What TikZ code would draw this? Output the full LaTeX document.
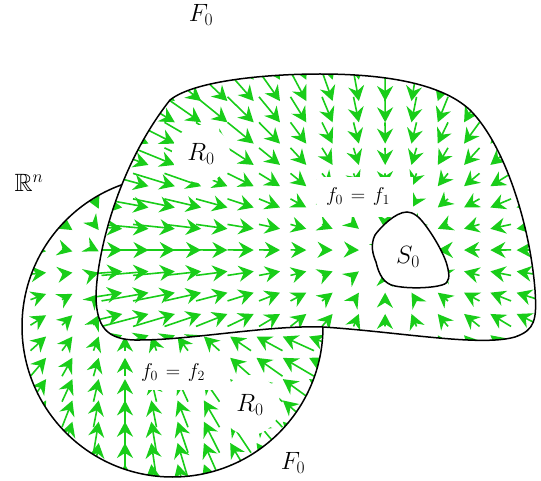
\documentclass[tikz,border=0pt]{standalone}
\usepackage{fix-cm}
\usepackage{amssymb}
\usetikzlibrary{arrows.meta}

\definecolor{fieldgreen}{RGB}{25,205,25}

% Grid of arrows pulled towards the point (#1,#2), centred on the grid points.
\newcommand{\fieldarrows}[2]{%
    \foreach \i in {-3,...,15} {
        \foreach \j in {-8,...,10} {
            \pgfmathsetmacro{\xMid}{125+28.9*\i}
            \pgfmathsetmacro{\yMid}{250+23.4*\j}
            \pgfmathsetmacro{\dx}{0.09*(#1-\xMid)}
            \pgfmathsetmacro{\dy}{0.09*(#2-\yMid)}
            \coordinate (tail) at (\xMid-\dx, \yMid-\dy);
            \coordinate (tip) at (\xMid+\dx, \yMid+\dy);
            \draw[field] (tail) -- (tip);
        }
    }
}

\begin{document}
\begin{tikzpicture}[
    x=1pt, y=-1pt,
    field/.style={
        -{Stealth[length=15pt, width=16pt, inset=5pt]},
        draw=fieldgreen, fill=fieldgreen, line width=1.6pt
    },
    outline/.style={draw=black, line width=1.5pt},
    patch/.style={fill=white, inner sep=0pt},
    biglabel/.style={font=\fontsize{25}{30}\selectfont},
    smalllabel/.style={font=\fontsize{20}{24}\selectfont},
]
    \useasboundingbox (0,0) rectangle (541,481);

    % Outlines of the two regions.
    \def\blobPath{(170,100) .. controls (195,80) and (270,74) .. (320,74)
        .. controls (380,74) and (440,82) .. (470,110)
        .. controls (505,145) and (530,225) .. (535,290)
        .. controls (537,320) and (535,330) .. (515,337)
        .. controls (480,347) and (400,332) .. (323,327)
        .. controls (270,325) and (190,340) .. (140,340)
        .. controls (105,341) and (97,325) .. (96,298)
        .. controls (96,260) and (115,170) .. (170,100) -- cycle}
    \def\discPath{(172.5,326.5) circle (150.5)}

    % ---------- lower disc ----------
    \begin{scope}
        \clip \discPath;
        \fieldarrows{125}{265}
    \end{scope}
    \draw[outline] \discPath;
    \fill[white] \blobPath;

    % ---------- upper region ----------
    \begin{scope}
        \clip \blobPath;
        \fieldarrows{386}{251}
    \end{scope}

    % ---------- labels, each on its white patch ----------
    \node[patch, biglabel, circle, minimum size=58pt] (rUpper) at (201,154) {$R_0$};
    \node[patch, biglabel, circle, minimum size=60pt] (rLower) at (250,405) {$R_0$};
    \node[patch, smalllabel, minimum width=96pt, minimum height=40pt] (fOne) at (365,197) {\hspace*{-14pt}$f_0\mskip2mu=\mskip2mu f_1$};
    \node[patch, smalllabel, minimum width=97pt, minimum height=36pt] (fTwo) at (181,372) {\hspace*{-16pt}$f_0\mskip2mu=\mskip2mu f_2$};

    \draw[outline] \blobPath;
    \draw[outline, fill=white] (407,212) .. controls (395,212) and (380,228) .. (375,235)
        .. controls (370,245) and (373,255) .. (376,262)
        .. controls (379,275) and (384,284) .. (395,286)
        .. controls (410,289) and (432,288) .. (442,285)
        .. controls (450,283) and (450,276) .. (447,265)
        .. controls (443,250) and (425,222) .. (417,216)
        .. controls (413,213) and (410,212) .. (407,212) -- cycle;

    \node[biglabel] (sZero) at (408,257) {$S_0$};
    \node[biglabel] (fTop) at (201,15) {$F_0$};
    \node[biglabel] (fBottom) at (293,463) {$F_0$};
    \node[biglabel] (space) at (29,183) {$\mathbb{R}^n$};
\end{tikzpicture}
\end{document}
